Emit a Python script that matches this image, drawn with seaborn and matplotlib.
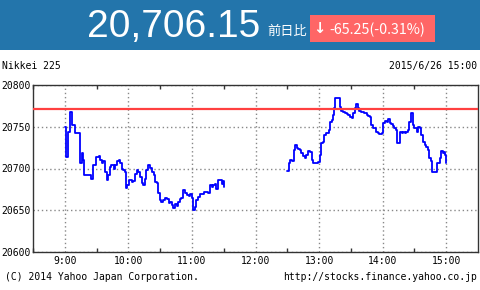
import matplotlib
matplotlib.use("Agg")
import matplotlib.pyplot as plt
import matplotlib.patches as patches
from matplotlib.ticker import FixedLocator
import seaborn as sns
import pandas as pd

# ---------------- data ----------------
morning_times = ["9:00", "9:01", "9:02", "9:03", "9:05", "9:07", "9:10", "9:13", "9:14", "9:16",
                 "9:17", "9:18", "9:22", "9:25", "9:27", "9:29", "9:32", "9:33", "9:35", "9:36",
                 "9:38", "9:40", "9:41", "9:43", "9:44", "9:46", "9:47", "9:49", "9:51", "9:52",
                 "9:54", "9:55", "9:57", "9:58", "9:59", "10:01", "10:03", "10:04", "10:06", "10:08",
                 "10:09", "10:11", "10:13", "10:14", "10:16", "10:17", "10:19", "10:20", "10:22", "10:24",
                 "10:25", "10:27", "10:28", "10:30", "10:31", "10:33", "10:35", "10:36", "10:38", "10:39",
                 "10:41", "10:42", "10:44", "10:46", "10:47", "10:49", "10:50", "10:52", "10:53", "10:55",
                 "10:57", "10:58", "11:00", "11:01", "11:03", "11:04", "11:06", "11:08", "11:11", "11:14",
                 "11:15", "11:17", "11:19", "11:20", "11:22", "11:23", "11:25", "11:26", "11:28", "11:29",
                 "11:30"]
morning_values = [20750, 20714, 20714, 20744, 20768, 20752, 20742, 20742, 20706, 20718,
                  20710, 20692, 20692, 20687, 20704, 20714, 20715, 20710, 20707, 20709,
                  20696, 20686, 20692, 20702, 20704, 20700, 20704, 20709, 20710, 20707,
                  20700, 20698, 20696, 20677, 20680, 20686, 20684, 20685, 20694, 20698,
                  20696, 20690, 20683, 20680, 20688, 20698, 20704, 20701, 20696, 20692,
                  20684, 20683, 20671, 20662, 20660, 20662, 20665, 20663, 20659, 20660,
                  20656, 20653, 20657, 20655, 20660, 20663, 20665, 20674, 20671, 20668,
                  20667, 20669, 20665, 20650, 20654, 20662, 20666, 20670, 20672, 20672,
                  20671, 20680, 20678, 20680, 20681, 20676, 20686, 20686, 20682, 20685,
                  20678]

afternoon_times = ["12:30", "12:32", "12:33", "12:34", "12:36", "12:37", "12:39", "12:40", "12:42", "12:43",
                   "12:45", "12:47", "12:48", "12:50", "12:51", "12:53", "12:54", "12:56", "12:59", "13:01",
                   "13:02", "13:04", "13:05", "13:07", "13:09", "13:10", "13:12", "13:13", "13:14", "13:15",
                   "13:18", "13:20", "13:21", "13:23", "13:24", "13:26", "13:27", "13:29", "13:31", "13:32",
                   "13:34", "13:35", "13:37", "13:38", "13:40", "13:42", "13:43", "13:45", "13:46", "13:48",
                   "13:49", "13:51", "13:53", "13:54", "13:56", "13:57", "13:59", "14:00", "14:02", "14:04",
                   "14:05", "14:07", "14:08", "14:10", "14:11", "14:13", "14:14", "14:16", "14:18", "14:19",
                   "14:21", "14:22", "14:24", "14:25", "14:27", "14:29", "14:30", "14:32", "14:33", "14:35",
                   "14:36", "14:38", "14:40", "14:41", "14:43", "14:44", "14:46", "14:47", "14:49", "14:51",
                   "14:52", "14:54", "14:55", "14:57", "14:58", "14:59", "15:00"]
afternoon_values = [20697, 20707, 20710, 20709, 20722, 20728, 20724, 20723, 20722, 20718,
                    20715, 20712, 20716, 20721, 20720, 20710, 20706, 20706, 20708, 20716,
                    20730, 20732, 20740, 20742, 20746, 20756, 20758, 20764, 20772, 20784,
                    20784, 20774, 20769, 20768, 20766, 20765, 20764, 20762, 20761, 20766,
                    20772, 20777, 20772, 20769, 20768, 20767, 20766, 20764, 20763, 20762,
                    20752, 20749, 20748, 20744, 20742, 20741, 20742, 20754, 20757, 20756,
                    20759, 20754, 20753, 20751, 20748, 20746, 20730, 20744, 20743, 20744,
                    20743, 20744, 20746, 20756, 20766, 20752, 20748, 20744, 20750, 20749,
                    20740, 20732, 20728, 20726, 20722, 20712, 20709, 20696, 20696, 20706,
                    20707, 20712, 20721, 20718, 20720, 20716, 20706.15]

previous_close = 20771.40
last_price = "20,706.15"
change_text = "-65.25(-0.31%)"
index_name = "Nikkei 225"
timestamp = "2015/6/26 15:00"
copyright_text = "(C) 2014 Yahoo Japan Corporation."
url_text = "http://stocks.finance.yahoo.co.jp"
x_tick_labels = ["9:00", "10:00", "11:00", "12:00", "13:00", "14:00", "15:00"]
y_tick_values = [20600, 20650, 20700, 20750, 20800]


def to_minutes(t):
    h, m = t.split(":")
    return int(h) * 60 + int(m)


morning = pd.DataFrame({"t": [to_minutes(t) for t in morning_times], "v": morning_values})
afternoon = pd.DataFrame({"t": [to_minutes(t) for t in afternoon_times], "v": afternoon_values})

# ---------------- figure ----------------
sns.set_style("white")
plt.rcParams["font.family"] = ["DejaVu Sans Mono", "DejaVu Sans"]

W, H = 480, 290
fig = plt.figure(figsize=(W / 100, H / 100), dpi=100)
fig.patch.set_facecolor("white")

# header band
fig.add_artist(patches.Rectangle((0, 1 - 50 / H), 1, 50 / H, transform=fig.transFigure,
                                 facecolor="#2375ab", edgecolor="none", zorder=0))
fig.text(260 / W, 1 - 37.5 / H, last_price, ha="right", va="baseline", fontsize=28,
         color="white", family=["Liberation Sans"])
fig.text(267 / W, 1 - 35 / H, "前日比", ha="left", va="baseline", fontsize=9.5,
         color="white", family=["Noto Sans CJK JP"])
fig.add_artist(patches.Rectangle((310 / W, 1 - 42 / H), 125 / W, 27 / H, transform=fig.transFigure,
                                 facecolor="#ff6666", edgecolor="none", zorder=1))
fig.text(319 / W, 1 - 28.5 / H, "↓", ha="center", va="center", fontsize=10.5, weight="bold",
         color="white", family=["DejaVu Sans"], zorder=2)
fig.text(329 / W, 1 - 34 / H, change_text, ha="left", va="baseline", fontsize=10.3,
         color="white", family=["Noto Sans CJK JP"], zorder=2)

# labels above / below the chart
fig.text(2 / W, 1 - 66 / H, index_name, ha="left", va="center", fontsize=7, color="black")
fig.text(477 / W, 1 - 66 / H, timestamp, ha="right", va="center", fontsize=7, color="black")
fig.text(5 / W, 1 - 277 / H, copyright_text, ha="left", va="center", fontsize=7, color="black")
fig.text(477 / W, 1 - 277 / H, url_text, ha="right", va="center", fontsize=7, color="black")

ax = fig.add_axes([33 / W, 38 / H, 445 / W, 167 / H])

sns.lineplot(data=morning, x="t", y="v", ax=ax, color="#0000ff", lw=1.3,
             drawstyle="steps-post", estimator=None, sort=False)
sns.lineplot(data=afternoon, x="t", y="v", ax=ax, color="#0000ff", lw=1.3,
             drawstyle="steps-post", estimator=None, sort=False)
ax.axhline(previous_close, color="#ff4040", lw=1.6, zorder=3)

ax.set_xlim(to_minutes("8:30"), to_minutes("15:30"))
ax.set_ylim(y_tick_values[0], y_tick_values[-1])
ax.set_xticks([to_minutes(t) for t in x_tick_labels])
ax.set_xticklabels(x_tick_labels)
ax.xaxis.set_minor_locator(FixedLocator([to_minutes(t) + 30 for t in x_tick_labels[:-1]] + [to_minutes("8:30")]))
ax.set_yticks(y_tick_values)
ax.set_yticklabels([str(v) for v in y_tick_values])
ax.set_xlabel("")
ax.set_ylabel("")

ax.grid(True, which="major", color="#888888", linestyle=(0, (1, 2)), lw=1)
ax.tick_params(axis="x", which="major", length=0, pad=3, labelsize=7, colors="black")
ax.tick_params(axis="x", which="minor", direction="in", length=3, top=True, bottom=True,
               width=1, color="#333333")
ax.tick_params(axis="y", which="major", length=0, pad=1.5, labelsize=7, colors="black")
for s in ax.spines.values():
    s.set_visible(True)
    s.set_color("#333333")
    s.set_linewidth(1)

fig.savefig("out.png", dpi=100)
